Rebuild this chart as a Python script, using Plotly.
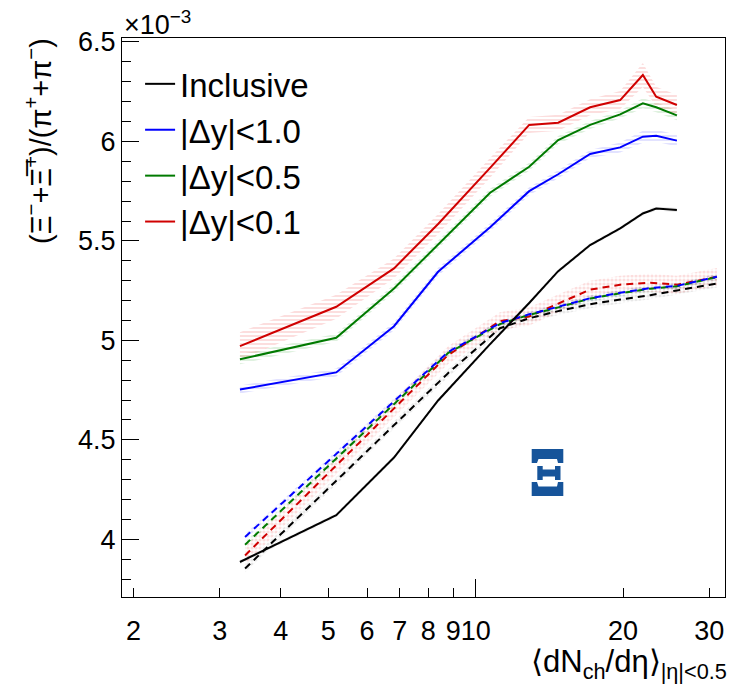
import plotly.graph_objects as go

# ---------------- data (values in units of 1e-3) ----------------
x_meas = [3.30, 5.19, 6.81, 8.38, 10.70, 12.86, 14.74, 17.13, 19.73, 21.95, 23.37, 25.76]
incl = [3.886, 4.121, 4.411, 4.698, 4.981, 5.188, 5.348, 5.479, 5.563, 5.638, 5.663, 5.655]
dy10 = [4.753, 4.839, 5.071, 5.345, 5.569, 5.750, 5.835, 5.937, 5.970, 6.024, 6.029, 6.004]
dy05 = [4.905, 5.013, 5.261, 5.481, 5.742, 5.873, 6.007, 6.083, 6.136, 6.192, 6.172, 6.131]
dy01 = [4.971, 5.169, 5.362, 5.585, 5.867, 6.083, 6.094, 6.172, 6.208, 6.334, 6.225, 6.183]
err_incl = [0.010] * 12
err_dy10 = [0.02, 0.02, 0.02, 0.02, 0.02, 0.02, 0.02, 0.02, 0.025, 0.03, 0.03, 0.03]
err_dy05 = [0.025, 0.02, 0.02, 0.02, 0.02, 0.02, 0.02, 0.02, 0.02, 0.025, 0.025, 0.025]
err_dy01 = [0.07, 0.06, 0.05, 0.05, 0.05, 0.04, 0.04, 0.04, 0.045, 0.06, 0.05, 0.05]

x_model = [3.38, 5.19, 6.81, 8.78, 11.21, 12.86, 14.74, 17.13, 19.73, 22.73, 25.76, 31.1]
m_incl = [3.853, 4.294, 4.576, 4.835, 5.061, 5.111, 5.147, 5.182, 5.205, 5.227, 5.251, 5.286]
m_dy10 = [4.012, 4.428, 4.694, 4.941, 5.087, 5.131, 5.169, 5.212, 5.239, 5.263, 5.274, 5.320]
m_dy05 = [3.973, 4.404, 4.680, 4.936, 5.082, 5.128, 5.166, 5.210, 5.237, 5.260, 5.272, 5.318]
m_dy01 = [3.919, 4.370, 4.658, 4.926, 5.097, 5.120, 5.185, 5.255, 5.280, 5.290, 5.280, 5.319]
m_err_incl = [0.02] * 12
m_err_dy10 = [0.015] * 12
m_err_dy05 = [0.015] * 12
m_err_dy01 = [0.045] * 12

series_names = ["Inclusive", "|Δy|&lt;1.0", "|Δy|&lt;0.5", "|Δy|&lt;0.1"]
colors = ["#000000", "#0000ff", "#007a00", "#d00000"]
band_fg = ["rgba(0,0,0,0.18)", "rgba(60,60,255,0.30)", "rgba(0,140,0,0.25)", "rgba(240,90,90,0.40)"]

x_ticks = [2, 3, 4, 5, 6, 7, 8, 9, 10, 20, 30]
x_ticktext = ["2", "3", "4", "5", "6", "7", "8", "9", "10", "20", "30"]
y_ticks = [4, 4.5, 5, 5.5, 6, 6.5]
y_ticktext = ["4", "4.5", "5", "5.5", "6", "6.5"]

FONT = "Liberation Sans, Arial, Helvetica, sans-serif"

fig = go.Figure()


def add_band(x, y, e, fg, shape):
    up = [v + d for v, d in zip(y, e)]
    lo = [v - d for v, d in zip(y, e)]
    fig.add_trace(go.Scatter(
        x=list(x) + list(x)[::-1], y=up + lo[::-1],
        mode="lines", line=dict(width=0), fill="toself",
        fillcolor="rgba(255,255,255,0)",
        fillpattern=dict(shape=shape, fgcolor=fg, bgcolor="rgba(255,255,255,0)",
                         size=4, solidity=0.5),
        hoverinfo="skip", showlegend=False))


meas = [(incl, err_incl), (dy10, err_dy10), (dy05, err_dy05), (dy01, err_dy01)]
model = [(m_incl, m_err_incl), (m_dy10, m_err_dy10), (m_dy05, m_err_dy05), (m_dy01, m_err_dy01)]

# bands
for i in range(4):
    add_band(x_model, model[i][0], model[i][1], band_fg[i], ".")
for i in range(4):
    add_band(x_meas, meas[i][0], meas[i][1], band_fg[i], "-")

# model dashed curves
for i in [0, 3, 2, 1]:
    fig.add_trace(go.Scatter(x=x_model, y=model[i][0], mode="lines",
                             line=dict(color=colors[i], width=2, dash="7px,5px"),
                             showlegend=False, hoverinfo="skip"))

# measured solid curves
for i in range(4):
    fig.add_trace(go.Scatter(x=x_meas, y=meas[i][0], mode="lines",
                             line=dict(color=colors[i], width=2),
                             name=series_names[i], legendrank=i + 1))

# dummy trace for overlay axis (long tick at 10)
fig.add_trace(go.Scatter(x=[10], y=[5], xaxis="x2", mode="markers",
                         marker=dict(opacity=0), showlegend=False, hoverinfo="skip"))

xr = [0.2776, 1.5092]
fig.update_layout(
    width=730, height=693,
    margin=dict(l=122, r=5, t=38, b=96),
    paper_bgcolor="white", plot_bgcolor="white",
    font=dict(family=FONT, color="black", size=27),
    showlegend=True,
    legend=dict(x=0.03, y=0.968, xanchor="left", yanchor="top",
                font=dict(family=FONT, size=33, color="black"),
                bgcolor="rgba(0,0,0,0)", itemwidth=30, tracegroupgap=0),
    xaxis=dict(type="log", range=xr, tickvals=x_ticks, ticktext=x_ticktext,
               tickangle=0,
               ticks="inside", ticklen=9, tickwidth=1, tickcolor="black",
               showline=True, linecolor="black", linewidth=1, mirror=True,
               showgrid=False, zeroline=False, ticklabelstandoff=10,
               tickfont=dict(size=27)),
    xaxis2=dict(type="log", range=xr, overlaying="x", anchor="y", side="bottom",
                tickvals=[10], ticks="inside", ticklen=18, tickwidth=1,
                tickcolor="black", showticklabels=False, showgrid=False,
                zeroline=False, showline=False),
    yaxis=dict(range=[3.71, 6.52], tickvals=y_ticks, ticktext=y_ticktext,
               ticks="inside", ticklen=17, tickwidth=1, tickcolor="black",
               minor=dict(dtick=0.1, ticks="inside", ticklen=9, tickcolor="black", tickwidth=1),
               showline=True, linecolor="black", linewidth=1, mirror=True,
               showgrid=False, zeroline=False, tickfont=dict(size=27)),
)

# axis titles and exponent
fig.add_annotation(xref="paper", yref="paper", x=0.0, y=1.0, xanchor="left", yanchor="bottom",
                   yshift=-4, showarrow=False, text="×10<sup>−3</sup>",
                   font=dict(family=FONT, size=27))
fig.add_annotation(xref="paper", yref="paper", x=-0.139, y=1.004, xanchor="center", yanchor="top",
                   textangle=-90, showarrow=False,
                   text="(Ξ<sup>−</sup>+Ξ\u0305<sup>+</sup>)/(π<sup>+</sup>+π<sup>−</sup>)",
                   font=dict(family=FONT, size=29))
fig.add_annotation(xref="paper", yref="paper", x=1.006, y=-0.081, xanchor="right", yanchor="top",
                   showarrow=False,
                   text="⟨dN<sub>ch</sub>/dη⟩<sub>|η|&lt;0.5</sub>",
                   font=dict(family=FONT, size=31))


# decorative logo (pixel -> paper conversion)
def P(px, py):
    return (px - 122) / 603.0, (597 - py) / 559.0


def poly(pts):
    s = ""
    for k, (px, py) in enumerate(pts):
        a, b = P(px, py)
        s += ("M" if k == 0 else "L") + f"{a:.5f},{b:.5f} "
    return s + "Z"


logo_color = "#16549a"
logo_parts = [
    [(531.7, 449), (563.3, 449), (563.3, 463), (558, 463), (557, 459), (538.5, 459), (537, 463), (531.7, 463)],
    [(537.3, 466), (542.7, 466), (542.7, 469.5), (555, 469.5), (555, 466), (560.5, 466),
     (560.5, 480), (555, 480), (555, 476.5), (542.7, 476.5), (542.7, 480), (537.3, 480)],
    [(531.7, 482), (537, 482), (538.5, 486.5), (557, 486.5), (558, 482), (563.3, 482), (563.3, 496), (531.7, 496)],
]
for part in logo_parts:
    fig.add_shape(type="path", xref="paper", yref="paper", path=poly(part),
                  fillcolor=logo_color, line=dict(width=0))

fig.write_html("out.html")
